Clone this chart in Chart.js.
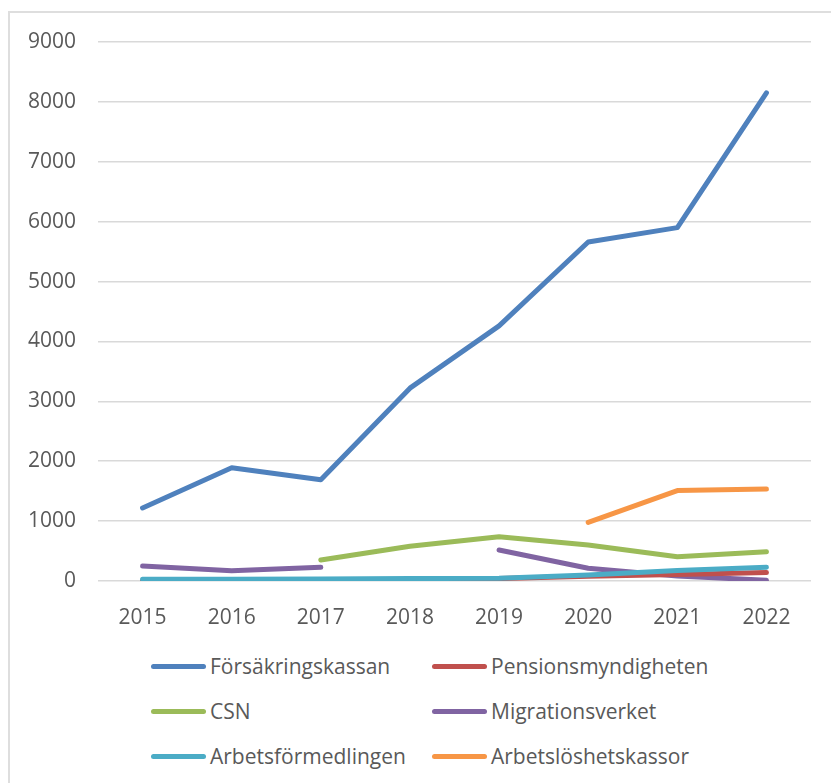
<!DOCTYPE html>
<html>
<head>
<meta charset="utf-8">
<script src="https://cdn.jsdelivr.net/npm/chart.js@4"></script>
<style>
  body { margin: 0; width: 831px; height: 783px; overflow: hidden; background: #fff; font-family: 'Open Sans', sans-serif; }
  #frame { position: absolute; left: 8px; top: 11px; width: 900px; height: 900px; border: 2px solid #dedede; }
  #chart { position: absolute; left: 0; top: 0; }
  .legend-item { position: absolute; display: flex; align-items: center; font-size: 21px; color: #595959; white-space: nowrap; }
  .legend-line { width: 55px; height: 5px; border-radius: 3px; margin-right: 4px; }
</style>
</head>
<body>
<div id="frame"></div>
<canvas id="chart" width="831" height="640"></canvas>
<div id="legend"></div>
<script>
// data
const years = ['2015', '2016', '2017', '2018', '2019', '2020', '2021', '2022'];
const forsakringskassan = [1220, 1890, 1690, 3220, 4260, 5660, 5900, 8150];
const pensionsmyndigheten = [0, 0, 5, 20, 40, 80, 110, 140];
const csn = [null, null, 350, 580, 740, 600, 405, 490];
const migrationsverket = [250, 172, 228, null, 517, 212, 83, 12];
const arbetsformedlingen = [28, 30, 35, 40, 45, 100, 175, 230];
const arbetsloshetskassor = [null, null, null, null, null, 980, 1510, 1535];

const seriesNames = ['Försäkringskassan', 'Pensionsmyndigheten', 'CSN', 'Migrationsverket', 'Arbetsförmedlingen', 'Arbetslöshetskassor'];
const seriesData = [forsakringskassan, pensionsmyndigheten, csn, migrationsverket, arbetsformedlingen, arbetsloshetskassor];
const seriesColors = ['#4F81BD', '#C0504D', '#9BBB59', '#8064A2', '#4BACC6', '#F79646'];

const yTicks = [0, 1000, 2000, 3000, 4000, 5000, 6000, 7000, 8000, 9000];

const textColor = '#595959';
const font = { family: 'Open Sans', size: 21 };

// draw order: later datasets on top (cyan over red)
const datasets = seriesNames.map((name, i) => ({
  label: name,
  data: seriesData[i],
  borderColor: seriesColors[i],
  backgroundColor: seriesColors[i],
  borderWidth: 5,
  pointRadius: 0,
  tension: 0,
  borderCapStyle: 'round',
  borderJoinStyle: 'round',
  spanGaps: false,
  order: [1, 3, 2, 4, 2.5, 0][i],
}));

const chart = new Chart(document.getElementById('chart'), {
  type: 'line',
  data: { labels: years, datasets: datasets },
  options: {
    responsive: false,
    animation: false,
    layout: { padding: { top: 42, right: 20, left: 0, bottom: 0 } },
    plugins: { legend: { display: false }, tooltip: { enabled: false } },
    scales: {
      x: {
        offset: true,
        grid: { display: false },
        border: { display: false },
        ticks: { color: textColor, font: font, padding: 16, maxRotation: 0 },
        afterFit: (s) => { s.height = 59; },
      },
      y: {
        min: 0,
        max: 9000,
        afterBuildTicks: (s) => { s.ticks = yTicks.map((v) => ({ value: v })); },
        grid: { color: '#d9d9d9', lineWidth: 1.5, drawTicks: false },
        border: { display: false },
        ticks: { color: textColor, font: font, padding: 22, callback: (v) => String(v) },
        afterFit: (s) => { s.width = 98; },
      },
    },
  },
});

// legend, 2 columns x 3 rows
const legend = document.getElementById('legend');
const colX = [151, 432];
const rowY = [666, 711, 756];
chart.data.datasets.forEach((ds, i) => {
  const item = document.createElement('div');
  item.className = 'legend-item';
  item.style.left = colX[i % 2] + 'px';
  item.style.top = (rowY[Math.floor(i / 2)] - 15) + 'px';
  item.style.height = '30px';
  item.innerHTML = '<span class="legend-line" style="background:' + ds.borderColor + '"></span>' + ds.label;
  legend.appendChild(item);
});
</script>
</body>
</html>
